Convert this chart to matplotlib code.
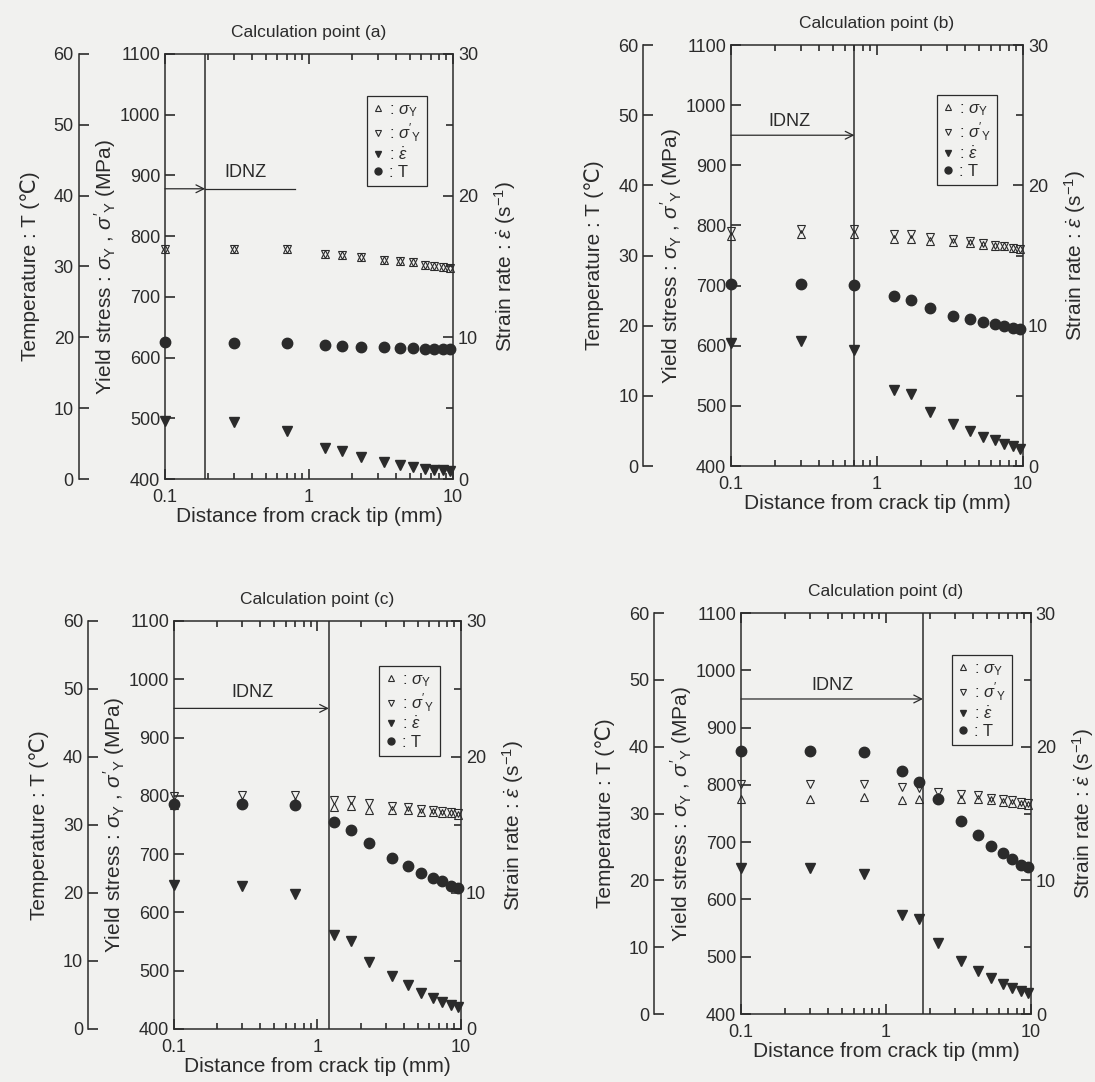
import numpy as np
import matplotlib.pyplot as plt
from matplotlib.lines import Line2D
from matplotlib.ticker import FuncFormatter, MultipleLocator, NullFormatter, LogLocator

plt.rcParams['font.family'] = ['Liberation Sans', 'DejaVu Sans']
plt.rcParams['mathtext.fontset'] = 'custom'
plt.rcParams['mathtext.rm'] = 'Liberation Sans'
plt.rcParams['mathtext.it'] = 'Liberation Sans:italic'
plt.rcParams['mathtext.bf'] = 'Liberation Sans:bold'

# distance from crack tip (mm), same for all four calculation points
dist = [0.1, 0.3, 0.7, 1.3, 1.7, 2.3, 3.3, 4.3, 5.3, 6.4, 7.4, 8.5, 9.6]

panels = ['a', 'b', 'c', 'd']

# yield stress sigma_Y (MPa)
sig_a = [778, 779, 778, 770, 769, 765, 761, 759, 757, 753, 751, 749, 747]
sig_b = [782, 785, 785, 778, 778, 774, 772, 770, 768, 766, 765, 763, 761]
sig_c = [785, 789, 789, 781, 782, 776, 776, 775, 773, 772, 771, 770, 767]
sig_d = [775, 776, 779, 773, 776, 779, 776, 775, 773, 771, 769, 767, 765]

# yield stress sigma'_Y (MPa)
sigp_a = [778, 779, 778, 770, 769, 765, 761, 759, 757, 753, 751, 749, 747]
sigp_b = [791, 794, 794, 786, 786, 781, 777, 774, 770, 767, 765, 763, 761]
sigp_c = [800, 801, 801, 793, 792, 787, 782, 780, 777, 775, 774, 773, 770]
sigp_d = [802, 802, 801, 796, 794, 788, 784, 782, 778, 775, 773, 771, 769]

# strain rate (1/s)
eps_a = [4.1, 4.0, 3.4, 2.2, 2.0, 1.55, 1.2, 1.0, 0.87, 0.74, 0.67, 0.62, 0.57]
eps_b = [8.8, 8.9, 8.3, 5.4, 5.1, 3.85, 3.0, 2.5, 2.1, 1.86, 1.6, 1.4, 1.24]
eps_c = [10.6, 10.5, 9.9, 6.9, 6.5, 4.9, 3.9, 3.2, 2.65, 2.3, 2.0, 1.8, 1.6]
eps_d = [10.9, 10.9, 10.5, 7.4, 7.1, 5.3, 4.0, 3.25, 2.7, 2.26, 1.95, 1.7, 1.56]

# temperature (deg C)
temp_a = [19.3, 19.2, 19.2, 18.9, 18.8, 18.7, 18.6, 18.5, 18.5, 18.4, 18.3, 18.3, 18.3]
temp_b = [26.0, 26.0, 25.8, 24.3, 23.6, 22.5, 21.4, 20.9, 20.5, 20.2, 20.0, 19.7, 19.5]
temp_c = [33.1, 33.1, 32.9, 30.4, 29.2, 27.3, 25.2, 23.9, 22.9, 22.2, 21.7, 21.0, 20.7]
temp_d = [39.3, 39.3, 39.2, 36.3, 34.7, 32.2, 28.9, 26.8, 25.1, 24.1, 23.2, 22.3, 22.0]

sig = [sig_a, sig_b, sig_c, sig_d]
sigp = [sigp_a, sigp_b, sigp_c, sigp_d]
eps = [eps_a, eps_b, eps_c, eps_d]
temp = [temp_a, temp_b, temp_c, temp_d]

# IDNZ boundary (mm) and arrow height (MPa)
idnz_x = [0.19, 0.7, 1.2, 1.8]
idnz_y = [878, 950, 950, 950]

# layout
rects = [[0.1507, 0.5573, 0.2630, 0.3928],
         [0.6676, 0.5693, 0.2667, 0.3891],
         [0.1589, 0.0490, 0.2621, 0.3771],
         [0.6767, 0.0628, 0.2648, 0.3706]]
idnz_txt = [(0.36, 905), (0.25, 973), (0.35, 977), (0.43, 973)]
leg_anchor = [(0.94, 0.92), (0.94, 0.90), (0.955, 0.91), (0.965, 0.915)]

bg = '#f1f1ef'
dark = '#2b2b2b'

fig = plt.figure(figsize=(10.95, 10.82), dpi=100, facecolor=bg)


def overlay(rect, name):
    # transparent axes on the same spot, only its y axis is shown
    o = fig.add_axes(rect, label=name)
    o.patch.set_visible(False)
    o.set_xscale('log')
    o.set_xlim(0.1, 10)
    o.xaxis.set_visible(False)
    for s in o.spines.values():
        s.set_visible(False)
    return o


for i, p in enumerate(panels):
    ax = fig.add_axes(rects[i], label='main' + p)
    ax.set_facecolor('none')
    ax.set_xscale('log')
    ax.set_xlim(0.1, 10)
    ax.set_ylim(400, 1100)
    ax.set_yticks(range(400, 1101, 100))
    ax.xaxis.set_minor_locator(LogLocator(base=10, subs=np.arange(2, 10), numticks=30))
    ax.xaxis.set_major_formatter(FuncFormatter(lambda v, pos: '%g' % v))
    ax.xaxis.set_minor_formatter(NullFormatter())
    ax.tick_params(which='both', direction='in', top=True, labelsize=13,
                   color=dark, labelcolor=dark, width=1.2)
    ax.tick_params(which='major', length=7)
    ax.tick_params(which='minor', length=4.5)
    ax.tick_params(axis='x', which='major', pad=7)
    for s in ax.spines.values():
        s.set_color(dark)
        s.set_linewidth(1.1)
    ax.set_xlabel('Distance from crack tip (mm)', fontsize=15, color=dark, labelpad=1)
    ax.set_ylabel(r"Yield stress : $\sigma_{\rm Y}$ , $\sigma'_{\rm Y}$ (MPa)",
                  fontsize=15, color=dark, labelpad=1)
    ax.set_title('Calculation point (%s)' % p, fontsize=12.5, color=dark, pad=12)

    # temperature axis, offset to the left
    tax = overlay(rects[i], 'temp' + p)
    tax.spines['left'].set_visible(True)
    tax.spines['left'].set_position(('axes', -0.30))
    tax.spines['left'].set_color(dark)
    tax.spines['left'].set_linewidth(1.1)
    tax.set_ylim(0, 60)
    tax.yaxis.set_major_locator(MultipleLocator(10))
    tax.tick_params(axis='y', direction='in', length=7, width=1.2, labelsize=13,
                    color=dark, labelcolor=dark)
    tax.set_ylabel('Temperature : T (℃)', fontsize=15, color=dark, labelpad=10)

    # strain rate axis on the right
    rax = overlay(rects[i], 'rate' + p)
    rax.yaxis.tick_right()
    rax.yaxis.set_label_position('right')
    rax.set_ylim(0, 30)
    rax.yaxis.set_major_locator(MultipleLocator(10))
    rax.yaxis.set_minor_locator(MultipleLocator(5))
    rax.tick_params(axis='y', which='both', direction='in', labelsize=13, width=1.2,
                    color=dark, labelcolor=dark)
    rax.tick_params(axis='y', which='major', length=7)
    rax.tick_params(axis='y', which='minor', length=5)
    rax.set_ylabel(r'Strain rate : $\dot{\varepsilon}$ (s$^{-1}$)', fontsize=15,
                   color=dark, labelpad=10)

    # IDNZ region
    ax.axvline(idnz_x[i], color=dark, lw=1.1)
    ax.annotate('', xy=(idnz_x[i], idnz_y[i]), xytext=(0.1, idnz_y[i]),
                arrowprops=dict(arrowstyle='->', color=dark, lw=0.9,
                                shrinkA=0, shrinkB=0, mutation_scale=14))
    if p == 'a':
        ax.plot([idnz_x[i], 0.8], [idnz_y[i], idnz_y[i]], color=dark, lw=0.9)
    ax.text(idnz_txt[i][0], idnz_txt[i][1], 'IDNZ', ha='center', va='center',
            fontsize=13, color=dark)

    # data
    ax.plot(dist, sig[i], ls='none', marker='^', ms=5.5, mfc='none', mec=dark,
            mew=0.8, clip_on=False)
    ax.plot(dist, sigp[i], ls='none', marker='v', ms=5.5, mfc='none', mec=dark,
            mew=0.8, clip_on=False)
    rax.plot(dist, eps[i], ls='none', marker='v', ms=7, color=dark, clip_on=False)
    tax.plot(dist, temp[i], ls='none', marker='o', ms=7.5, color=dark, clip_on=False)

    handles = [Line2D([], [], ls='none', marker='^', ms=4, mfc='none', mec=dark, mew=0.8),
               Line2D([], [], ls='none', marker='v', ms=4, mfc='none', mec=dark, mew=0.8),
               Line2D([], [], ls='none', marker='v', ms=5, color=dark),
               Line2D([], [], ls='none', marker='o', ms=5, color=dark)]
    labels = [r': $\sigma_{\rm Y}$', r": $\sigma'_{\rm Y}$", r': $\dot{\varepsilon}$', ': T']
    leg = rax.legend(handles, labels, loc='upper right', bbox_to_anchor=leg_anchor[i],
                     frameon=True, fancybox=False, edgecolor=dark, facecolor='none',
                     framealpha=1, fontsize=12, handlelength=0.7, handletextpad=0.3,
                     borderpad=0.35, labelspacing=0.15)
    leg.get_frame().set_linewidth(0.9)
    for t in leg.get_texts():
        t.set_color(dark)

fig.savefig('out.png', dpi=100, facecolor=bg)
